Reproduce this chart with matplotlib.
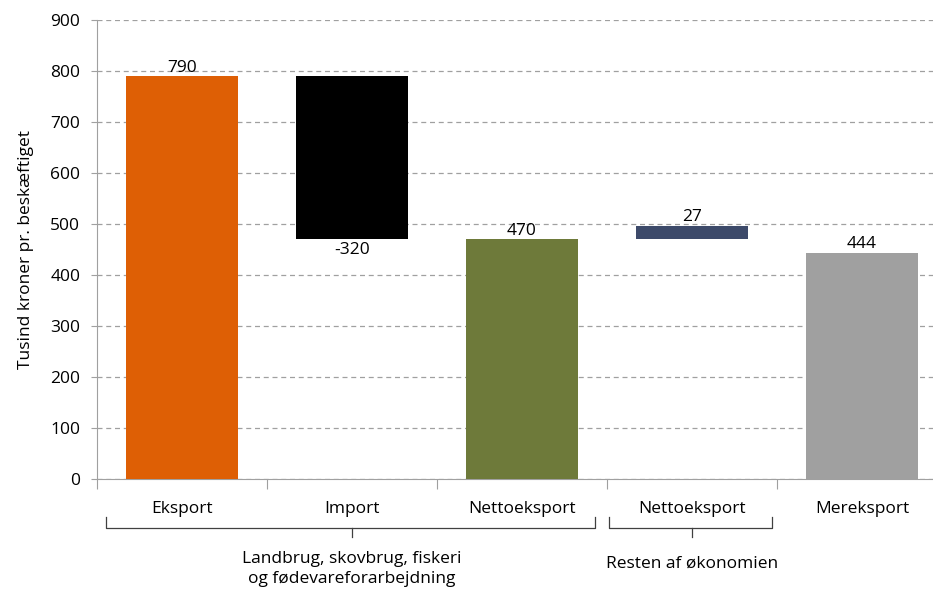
import matplotlib.pyplot as plt
import matplotlib.transforms as mtransforms

plt.rcParams['font.family'] = ['Open Sans', 'DejaVu Sans']

categories = ['Eksport', 'Import', 'Nettoeksport', 'Nettoeksport', 'Mereksport']
values = [790, -320, 470, 27, 444]
labels = ['790', '-320', '470', '27', '444']
colors = ['#DE5F05', '#000000', '#6E7A3A', '#3D4A6A', '#A0A0A0']
group_labels = ['Landbrug, skovbrug, fiskeri\nog fødevareforarbejdning', 'Resten af økonomien']
yticks = [0, 100, 200, 300, 400, 500, 600, 700, 800, 900]

# waterfall bottoms: import hangs from export, rest of economy sits on nettoeksport
bottoms = [0, values[0], 0, values[2], 0]
heights = list(values)

FS = 12.5

fig = plt.figure(figsize=(9.33, 5.92), dpi=100)
ax = fig.add_axes([97 / 933, 113 / 592, 850 / 933, 459 / 592])

x = list(range(len(categories)))
ax.bar(x, heights, bottom=bottoms, width=0.66, color=colors, zorder=3)

for i, (b, h, lab) in enumerate(zip(bottoms, heights, labels)):
    if h < 0:
        ax.text(i, b + h - 6, lab, ha='center', va='top', fontsize=FS)
    else:
        ax.text(i, b + h + 1, lab, ha='center', va='bottom', fontsize=FS)

ax.set_xlim(-0.5, 4.5)
ax.set_ylim(0, 900)
ax.set_yticks(yticks)
ax.tick_params(axis='y', labelsize=FS, length=4, color='#A0A0A0', pad=8)
ax.set_ylabel('Tusind kroner pr. beskæftiget', fontsize=FS, labelpad=12)
ax.yaxis.grid(True, linestyle=(0, (4, 3)), color='#A0A0A0', linewidth=0.9, zorder=0)

ax.set_xticks([i - 0.5 for i in x] + [4.5])
ax.set_xticklabels([])
ax.set_xticks(x, minor=True)
ax.set_xticklabels(categories, minor=True, fontsize=FS)
ax.tick_params(axis='x', which='major', length=7, color='#A0A0A0', direction='out')
ax.tick_params(axis='x', which='minor', length=0, pad=16)

for s in ['top', 'right']:
    ax.spines[s].set_visible(False)
for s in ['left', 'bottom']:
    ax.spines[s].set_color('#A0A0A0')

# brackets below the categories
trans = mtransforms.blended_transform_factory(ax.transData, ax.transAxes)
def px(y):
    return -(y - 479) / 459

def bracket(x0, x1, xc):
    kw = dict(transform=trans, clip_on=False, color='#404040', linewidth=0.9)
    ax.plot([x0, x0, x1, x1], [px(517), px(528), px(528), px(517)], **kw)
    ax.plot([xc, xc], [px(528), px(537)], **kw)

bracket(-0.45, 2.43, 1.0)
bracket(2.51, 3.47, 3.0)

ax.text(1.0, px(569), group_labels[0], transform=trans, ha='center', va='center',
        fontsize=FS, linespacing=1.4)
ax.text(3.0, px(564), group_labels[1], transform=trans, ha='center', va='center',
        fontsize=FS)

fig.savefig('out.png', dpi=100)
